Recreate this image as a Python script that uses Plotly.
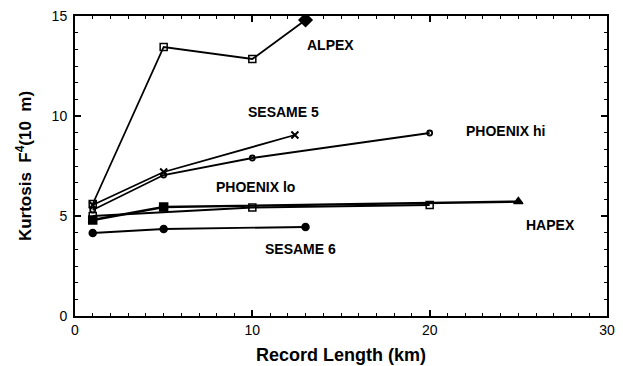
import plotly.graph_objects as go

# Data
alpex_x = [1, 5, 10, 13]
alpex_y = [5.6, 13.45, 12.85, 14.8]
sesame5_x = [1, 5, 12.4]
sesame5_y = [5.55, 7.2, 9.05]
phoenix_hi_x = [1, 5, 10, 20]
phoenix_hi_y = [5.3, 7.05, 7.9, 9.15]
phoenix_lo_x = [1, 10, 20]
phoenix_lo_y = [5.0, 5.42, 5.55]
hapex_x = [1, 5, 25]
hapex_y = [4.8, 5.45, 5.72]
sesame6_x = [1, 5, 13]
sesame6_y = [4.15, 4.35, 4.45]

labels = ["ALPEX", "SESAME 5", "PHOENIX hi", "PHOENIX lo", "HAPEX", "SESAME 6"]
label_x = [14.4, 11.75, 24.3, 10.2, 26.8, 12.7]
label_y = [13.55, 10.2, 9.26, 6.44, 4.55, 3.37]

FONT = "Liberation Sans, Arial, Helvetica, sans-serif"

fig = go.Figure()

def add(x, y, symbols, size, lw=1.8, mlw=1.5, color="black"):
    fig.add_trace(go.Scatter(
        x=x, y=y, mode="lines+markers",
        line=dict(color="black", width=lw),
        marker=dict(symbol=symbols, size=size, color=color, opacity=1,
                    line=dict(color="black", width=mlw)),
        showlegend=False, cliponaxis=True))

add(alpex_x, alpex_y, ["square-open", "square-open", "square-open", "diamond"], [7, 7, 7, 10])
add(sesame5_x, sesame5_y, "x-thin-open", 7, mlw=2)
add(phoenix_hi_x, phoenix_hi_y, "circle-open", 5, mlw=1.8)
add(phoenix_lo_x, phoenix_lo_y, "square-open", 7, lw=2)
add(hapex_x, hapex_y, ["square", "square", "triangle-up"], 8, lw=2.4)
add(sesame6_x, sesame6_y, "circle", 7)

for t, lx, ly in zip(labels, label_x, label_y):
    fig.add_annotation(x=lx, y=ly, text="<b>%s</b>" % t, showarrow=False,
                       font=dict(family=FONT, size=14, color="black"))

axis_common = dict(
    showline=True, linecolor="black", linewidth=2, mirror="ticks",
    ticks="inside", ticklen=6, tickwidth=1.5, tickcolor="black",
    showgrid=False, zeroline=False, automargin=False,
    ticklabeloverflow="allow",
    tickfont=dict(family=FONT, size=14, color="black"),
)

fig.update_xaxes(range=[0, 30], tick0=0, dtick=10,
                 minor=dict(dtick=1, ticks="inside", ticklen=3, tickcolor="black", tickwidth=1.2),
                 title=dict(text="<b>Record Length (km)</b>", font=dict(family=FONT, size=18, color="black"), standoff=12),
                 **axis_common)
fig.update_yaxes(range=[0, 15], tick0=0, dtick=5, ticklabelstandoff=3,
                 minor=dict(tick0=0, dtick=5/6, ticks="inside", ticklen=3, tickcolor="black", tickwidth=1.2),
                 title=dict(text="<b>Kurtosis  F<sup>4</sup>(10  m)</b>", font=dict(family=FONT, size=17, color="black"), standoff=16),
                 **axis_common)

# The page adds an 8px body margin, so the figure is sized to fit inside the window
fig.update_layout(
    width=615, height=358,
    margin=dict(l=67, r=16, t=8, b=50, autoexpand=False),
    plot_bgcolor="white", paper_bgcolor="white",
)

fig.write_html("out.html")
